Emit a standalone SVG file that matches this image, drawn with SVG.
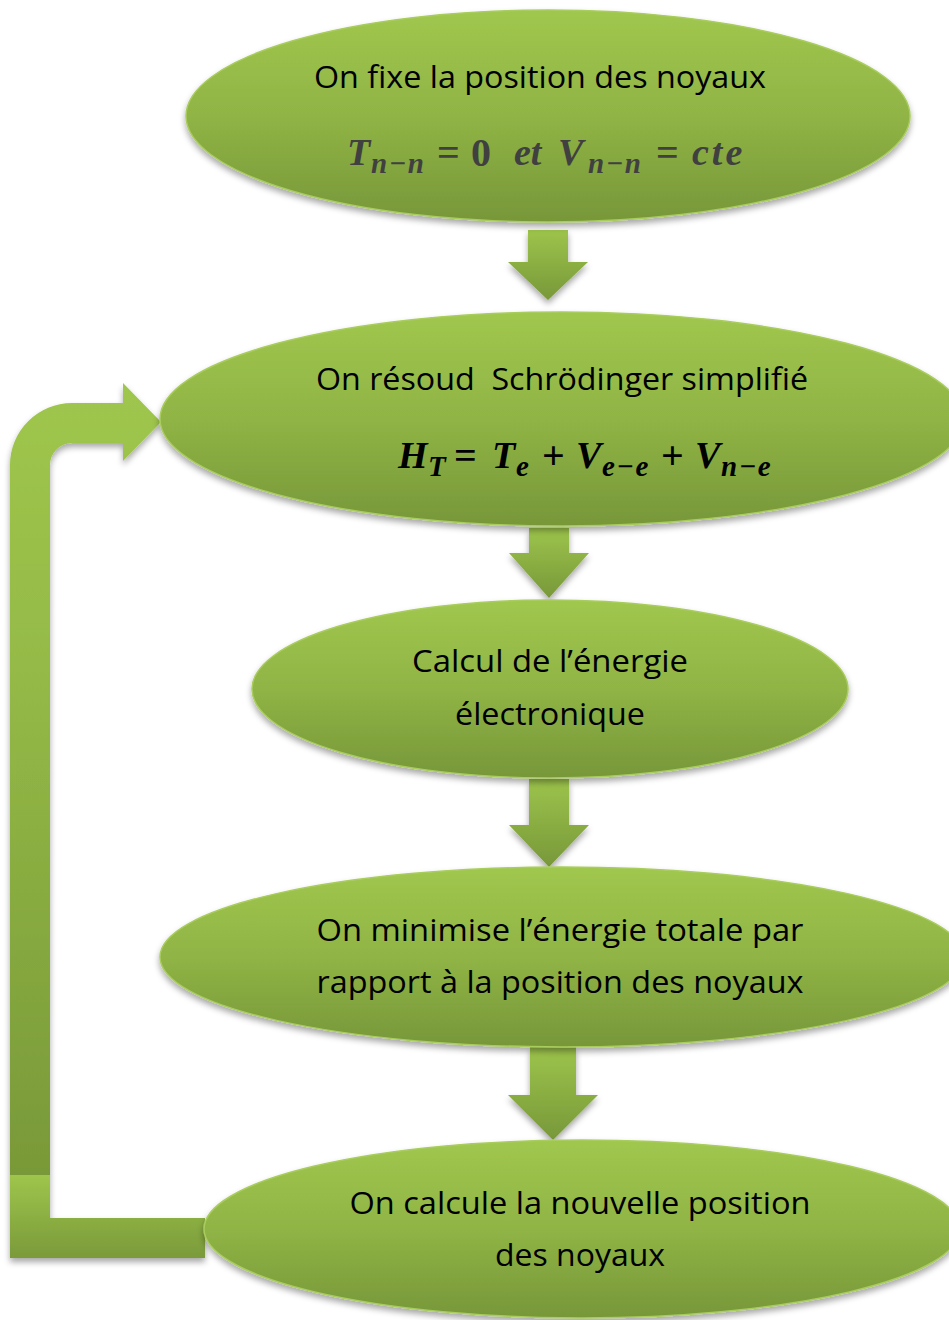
<svg xmlns="http://www.w3.org/2000/svg" width="949" height="1320" viewBox="0 0 949 1320">
<style>
.node{fill:url(#ellGrad);stroke:#a9cc5f;stroke-width:1.5;filter:url(#shadow)}
.conn{filter:url(#shadow)}
.arrow{fill:url(#arrowGrad)}
.t{font-family:"Open Sans","Liberation Sans",sans-serif;font-size:31.5px;fill:#000;text-anchor:middle}
.m{font-family:"Liberation Serif",serif;font-weight:bold;font-style:italic;font-size:38px}
.s{font-size:29px;letter-spacing:1.5px}
.u{font-style:normal;font-size:40px}
</style>
<defs>
<linearGradient id="ellGrad" x1="0" y1="0" x2="0" y2="1">
<stop offset="0" stop-color="#a0c74e"/>
<stop offset="0.5" stop-color="#90b445"/>
<stop offset="1" stop-color="#779739"/>
</linearGradient>
<linearGradient id="arrowGrad" x1="0" y1="0" x2="0" y2="1">
<stop offset="0" stop-color="#9dc44c"/>
<stop offset="1" stop-color="#789839"/>
</linearGradient>
<linearGradient id="loopGrad" gradientUnits="userSpaceOnUse" x1="0" y1="383" x2="0" y2="1190">
<stop offset="0" stop-color="#9fc64d"/>
<stop offset="0.35" stop-color="#95ba47"/>
<stop offset="1" stop-color="#789838"/>
</linearGradient>
<linearGradient id="lGrad" gradientUnits="userSpaceOnUse" x1="0" y1="1175" x2="0" y2="1258">
<stop offset="0" stop-color="#9ec54c"/>
<stop offset="1" stop-color="#7a9a3a"/>
</linearGradient>
<filter id="shadow" x="-10%" y="-10%" width="120%" height="130%">
<feDropShadow dx="0" dy="4" stdDeviation="3" flood-color="#000" flood-opacity="0.35"/>
</filter>
</defs>
<g id="connectors" class="conn">
<path class="arrow" d="M528 230 H568 V262 H588 L548 300 L508 262 H528 Z"/>
<path class="arrow" d="M529 528 H569 V553 H589 L549 598 L509 553 H529 Z"/>
<path class="arrow" d="M529 779 H569 V825 H589 L549 867 L509 825 H529 Z"/>
<path class="arrow" d="M530 1047 H576 V1095 H598 L553 1140 L508 1095 H530 Z"/>
<path fill="url(#loopGrad)" d="M10 1190 V465 A62 62 0 0 1 72 403 H123 V383 L161 422 L123 461 V443 H72 A22 22 0 0 0 50 465 V1190 Z"/>
<path fill="url(#lGrad)" d="M10 1175 H50 V1218 H205 V1258 H10 Z"/>
</g>
<g id="node1">
<ellipse class="node" cx="548" cy="116" rx="362" ry="106"/>
<text class="t" x="540" y="88" textLength="452" lengthAdjust="spacingAndGlyphs">On fixe la position des noyaux</text>
<text class="m" fill="#404040"><tspan x="347" y="165">T</tspan><tspan class="s" x="371" y="173">n−n</tspan><tspan class="u" x="437" y="166">=</tspan><tspan class="u" x="471" y="166">0</tspan><tspan x="514" y="165">et</tspan><tspan x="558" y="165">V</tspan><tspan class="s" x="588" y="173">n−n</tspan><tspan class="u" x="656" y="166">=</tspan><tspan x="692" y="165" letter-spacing="3">cte</tspan></text>
</g>
<g id="node2">
<ellipse class="node" cx="562" cy="419" rx="402" ry="107"/>
<text class="t" x="562" y="390" textLength="492" lengthAdjust="spacingAndGlyphs">On résoud&#160; Schrödinger simplifié</text>
<text class="m" fill="#000"><tspan x="398" y="468">H</tspan><tspan class="s" x="428" y="476">T</tspan><tspan class="u" x="454" y="469">=</tspan><tspan x="492" y="468">T</tspan><tspan class="s" x="516" y="476">e</tspan><tspan class="u" x="542" y="469">+</tspan><tspan x="576" y="468">V</tspan><tspan class="s" x="602" y="476">e−e</tspan><tspan class="u" x="661" y="469">+</tspan><tspan x="695" y="468">V</tspan><tspan class="s" x="721" y="476">n−e</tspan></text>
</g>
<g id="node3">
<ellipse class="node" cx="550" cy="689" rx="298" ry="89"/>
<text class="t" x="550" y="672" textLength="276" lengthAdjust="spacingAndGlyphs">Calcul de l’énergie</text>
<text class="t" x="550" y="725" textLength="190" lengthAdjust="spacingAndGlyphs">électronique</text>
</g>
<g id="node4">
<ellipse class="node" cx="562" cy="957" rx="402" ry="90"/>
<text class="t" x="560" y="941" textLength="487" lengthAdjust="spacingAndGlyphs">On minimise l’énergie totale par</text>
<text class="t" x="560" y="993" textLength="487" lengthAdjust="spacingAndGlyphs">rapport à la position des noyaux</text>
</g>
<g id="node5">
<ellipse class="node" cx="582" cy="1229" rx="378" ry="89"/>
<text class="t" x="580" y="1214" textLength="461" lengthAdjust="spacingAndGlyphs">On calcule la nouvelle position</text>
<text class="t" x="580" y="1266" textLength="170" lengthAdjust="spacingAndGlyphs">des noyaux</text>
</g>
</svg>
